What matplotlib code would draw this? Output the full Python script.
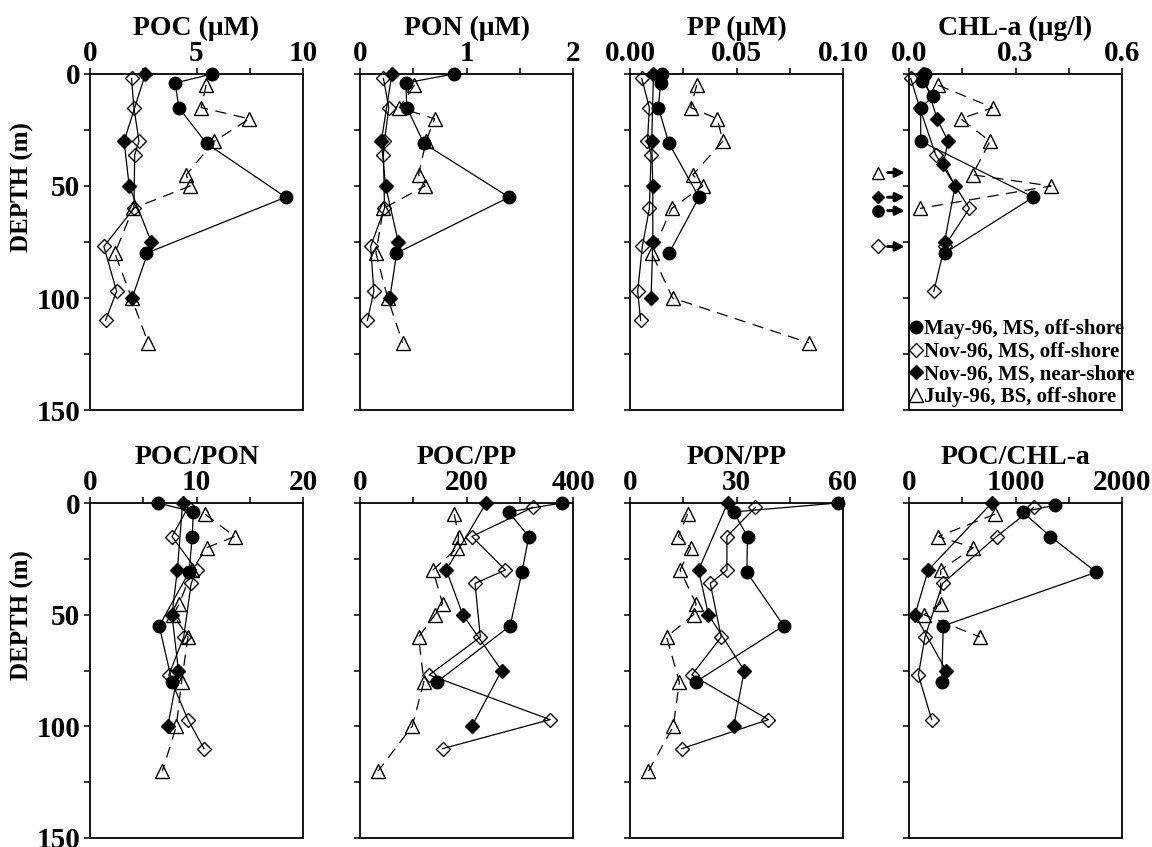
import matplotlib
matplotlib.use("Agg")
import matplotlib.pyplot as plt
from matplotlib.lines import Line2D

plt.rcParams['font.family'] = ['Liberation Serif', 'DejaVu Serif']
plt.rcParams['font.weight'] = 'bold'

# ---------------- data ----------------
# May-96, MS, off-shore (filled circles)
may_depth = [0, 4, 15, 31, 55, 80]
may_poc = [5.73, 4.0, 4.17, 5.47, 9.19, 2.65]
may_pon = [0.88, 0.43, 0.44, 0.60, 1.40, 0.34]
may_pp = [0.0149, 0.0144, 0.0133, 0.0183, 0.0324, 0.0183]
may_chl_depth = [0, 3, 10, 15, 30, 55, 80]
may_chl = [0.045, 0.036, 0.068, 0.033, 0.033, 0.35, 0.10]
may_poc_pon = [6.4, 9.7, 9.6, 9.3, 6.5, 7.7]
may_poc_pp = [379, 279, 317, 304, 282, 145]
may_pon_pp = [58.5, 29.2, 33.1, 32.9, 43.3, 18.6]
may_pocchl_depth = [1, 4, 15, 31, 55, 80]
may_poc_chl = [1369, 1066, 1328, 1759, 322, 306]

# Nov-96, MS, off-shore (open diamonds)
novo_depth = [2, 15, 30, 36, 60, 77, 97, 110]
novo_poc = [1.95, 2.06, 2.3, 2.1, 2.06, 0.65, 1.25, 0.73]
novo_pon = [0.22, 0.27, 0.23, 0.22, 0.23, 0.10, 0.13, 0.07]
novo_pp = [0.0055, 0.0091, 0.0082, 0.0099, 0.0091, 0.0058, 0.0036, 0.0050]
novo_chl_depth = [2, 15, 36, 60, 77, 97]
novo_chl = [0.005, 0.03, 0.075, 0.17, 0.10, 0.07]
novo_poc_pon = [9.2, 7.7, 10.0, 9.5, 8.8, 7.4, 9.2, 10.7]
novo_poc_pp = [324, 210, 273, 216, 226, 130, 357, 155]
novo_pon_pp = [35.3, 27.3, 27.3, 22.6, 25.7, 17.4, 39.0, 14.6]
novo_pocchl_depth = [2, 15, 36, 60, 77, 97]
novo_poc_chl = [1170, 822, 316, 150, 88, 213]

# Nov-96, MS, near-shore (filled diamonds)
novn_depth = [0, 30, 50, 75, 100]
novn_poc = [2.6, 1.6, 1.84, 2.88, 1.98]
novn_pon = [0.30, 0.20, 0.24, 0.36, 0.28]
novn_pp = [0.0110, 0.0102, 0.0107, 0.0107, 0.0099]
novn_chl_depth = [0, 20, 30, 40, 50, 75]
novn_chl = [0.04, 0.079, 0.11, 0.097, 0.13, 0.10]
novn_poc_pon = [8.7, 8.2, 7.7, 8.3, 7.3]
novn_poc_pp = [237, 162, 193, 266, 210]
novn_pon_pp = [27.5, 19.3, 22.1, 32.2, 29.2]
novn_pocchl_depth = [0, 30, 50, 75]
novn_poc_chl = [776, 181, 56, 347]

# July-96, BS, off-shore (open triangles)
jul_depth = [5, 15, 20, 30, 45, 50, 60, 80, 100, 120]
jul_poc = [5.45, 5.22, 7.48, 5.84, 4.52, 4.7, 2.02, 1.17, 1.95, 2.73]
jul_pon = [0.51, 0.37, 0.70, 0.62, 0.55, 0.61, 0.22, 0.15, 0.26, 0.40]
jul_pp = [0.0313, 0.0285, 0.041, 0.0436, 0.0295, 0.0342, 0.0196, 0.0102, 0.020, 0.0839]
jul_chl_depth = [5, 15, 20, 30, 45, 50, 60]
jul_chl = [0.082, 0.236, 0.146, 0.228, 0.179, 0.40, 0.031]
jul_poc_pon = [10.8, 13.6, 10.95, 9.6, 8.4, 7.8, 9.2, 8.6, 8.1, 6.8]
jul_poc_pp = [177, 185, 183, 137, 155, 141, 110, 120, 98, 34]
jul_pon_pp = [16.2, 13.6, 17.1, 14.1, 18.6, 17.9, 10.3, 13.9, 12.2, 5.2]
jul_pocchl_depth = [5, 15, 20, 30, 45, 50, 60]
jul_poc_chl = [808, 275, 604, 297, 297, 140, 666]

# arrows beside CHL-a panel (depths)
arrow_depths = [44, 55, 61, 77]
arrow_series = ['jul', 'novn', 'may', 'novo']

titles = ['POC (\u03bcM)', 'PON (\u03bcM)', 'PP (\u03bcM)', 'CHL-a (\u03bcg/l)',
          'POC/PON', 'POC/PP', 'PON/PP', 'POC/CHL-a']
xlims = [10, 2, 0.10, 0.6, 20, 400, 60, 2000]
xtick_vals = [[0, 5, 10], [0, 1, 2], [0, 0.05, 0.10], [0, 0.3, 0.6],
              [0, 10, 20], [0, 200, 400], [0, 30, 60], [0, 1000, 2000]]
xtick_labels = [['0', '5', '10'], ['0', '1', '2'], ['0.00', '0.05', '0.10'],
                ['0.0', '0.3', '0.6'], ['0', '10', '20'], ['0', '200', '400'],
                ['0', '30', '60'], ['0', '1000', '2000']]
depth_ticks = [0, 50, 100, 150]
legend_labels = ['May-96, MS, off-shore', 'Nov-96, MS, off-shore',
                 'Nov-96, MS, near-shore', 'July-96, BS, off-shore']

panels = [
    [(may_poc, may_depth), (novo_poc, novo_depth), (novn_poc, novn_depth), (jul_poc, jul_depth)],
    [(may_pon, may_depth), (novo_pon, novo_depth), (novn_pon, novn_depth), (jul_pon, jul_depth)],
    [(may_pp, may_depth), (novo_pp, novo_depth), (novn_pp, novn_depth), (jul_pp, jul_depth)],
    [(may_chl, may_chl_depth), (novo_chl, novo_chl_depth), (novn_chl, novn_chl_depth), (jul_chl, jul_chl_depth)],
    [(may_poc_pon, may_depth), (novo_poc_pon, novo_depth), (novn_poc_pon, novn_depth), (jul_poc_pon, jul_depth)],
    [(may_poc_pp, may_depth), (novo_poc_pp, novo_depth), (novn_poc_pp, novn_depth), (jul_poc_pp, jul_depth)],
    [(may_pon_pp, may_depth), (novo_pon_pp, novo_depth), (novn_pon_pp, novn_depth), (jul_pon_pp, jul_depth)],
    [(may_poc_chl, may_pocchl_depth), (novo_poc_chl, novo_pocchl_depth), (novn_poc_chl, novn_pocchl_depth), (jul_poc_chl, jul_pocchl_depth)],
]

# ---------------- styles ----------------
styles = [
    dict(marker='o', ms=9, mfc='black', mec='black', ls='-'),
    dict(marker='D', ms=7.5, mfc='none', mec='black', ls='-'),
    dict(marker='D', ms=7.0, mfc='black', mec='black', ls='-'),
    dict(marker='^', ms=9.5, mfc='none', mec='black', ls=(0, (9, 6))),
]
style_key = {'may': 0, 'novo': 1, 'novn': 2, 'jul': 3}

W, H = 1152, 847
fig = plt.figure(figsize=(W / 100, H / 100), dpi=100)

col_left = [90, 360, 630, 909]
ax_w = 213
rows = [(74, 410), (503, 838)]

TICK_FS = 21
TITLE_FS = 20

axes = []
for i in range(8):
    r, c = divmod(i, 4)
    top, bot = rows[r]
    ax = fig.add_axes([col_left[c] / W, 1 - bot / H, ax_w / W, (bot - top) / H])
    axes.append(ax)
    for s, (xv, yv) in enumerate(panels[i]):
        st = styles[s]
        ax.plot(xv, yv, color='black', lw=0.9, linestyle=st['ls'], marker=st['marker'],
                markersize=st['ms'], markerfacecolor=st['mfc'], markeredgecolor=st['mec'],
                markeredgewidth=1.0, clip_on=False, zorder=3)
    ax.set_xlim(0, xlims[i])
    ax.set_ylim(150, 0)
    ax.xaxis.tick_top()
    ax.set_xticks(xtick_vals[i])
    ax.set_xticklabels(xtick_labels[i])
    mids = [(a + b) / 2 for a, b in zip(xtick_vals[i][:-1], xtick_vals[i][1:])]
    ax.set_xticks(mids, minor=True)
    ax.set_yticks(depth_ticks)
    ax.set_yticks([25, 75, 125], minor=True)
    if c != 0:
        ax.set_yticklabels([])
    ax.tick_params(which='both', direction='out', length=4, width=1.1,
                   labelsize=TICK_FS, top=True, bottom=False, right=False, left=True)
    ax.tick_params(axis='x', which='major', pad=1)
    ax.tick_params(axis='y', which='major', pad=3)
    for lab in ax.get_xticklabels() + ax.get_yticklabels():
        lab.set_fontweight('bold')
    for sp in ax.spines.values():
        sp.set_linewidth(1.3)
    ax.text(0.5, 1 + 39 / (bot - top), titles[i], transform=ax.transAxes,
            ha='center', va='baseline', fontsize=TITLE_FS, fontweight='bold')

# depth labels
fig.text(22 / W, 1 - 187 / H, 'DEPTH (m)', rotation=90, ha='center', va='center',
         fontsize=18, fontweight='bold')
fig.text(22 / W, 1 - 615 / H, 'DEPTH (m)', rotation=90, ha='center', va='center',
         fontsize=18, fontweight='bold')

# legend in CHL-a panel
ax_chl = axes[3]
handles = [Line2D([], [], ls='none', marker=st['marker'], markersize=st['ms'],
                  markerfacecolor=st['mfc'], markeredgecolor='black', markeredgewidth=1.0)
           for st in styles]
ax_chl.legend(handles, legend_labels, loc='lower left', bbox_to_anchor=(-0.01, 0.0),
              frameon=False, handlelength=0.6, handletextpad=0.05, borderpad=0.15,
              borderaxespad=0.0, labelspacing=0.12,
              prop=dict(family='Liberation Serif', weight='bold', size=15))

# arrows to the left of CHL-a panel
ytrans = ax_chl.get_yaxis_transform()
for d, key in zip(arrow_depths, arrow_series):
    st = styles[style_key[key]]
    ax_chl.plot([-0.145], [d], transform=ytrans, marker=st['marker'],
                markersize=st['ms'] * 0.9, markerfacecolor=st['mfc'],
                markeredgecolor='black', markeredgewidth=1.0, ls='none', clip_on=False)
    ax_chl.annotate('', xy=(-0.02, d), xytext=(-0.10, d), xycoords=ytrans, textcoords=ytrans,
                    arrowprops=dict(arrowstyle='-|>', color='black', lw=2.2,
                                    mutation_scale=13, shrinkA=0, shrinkB=0),
                    annotation_clip=False)

fig.savefig('out.png', dpi=100)
